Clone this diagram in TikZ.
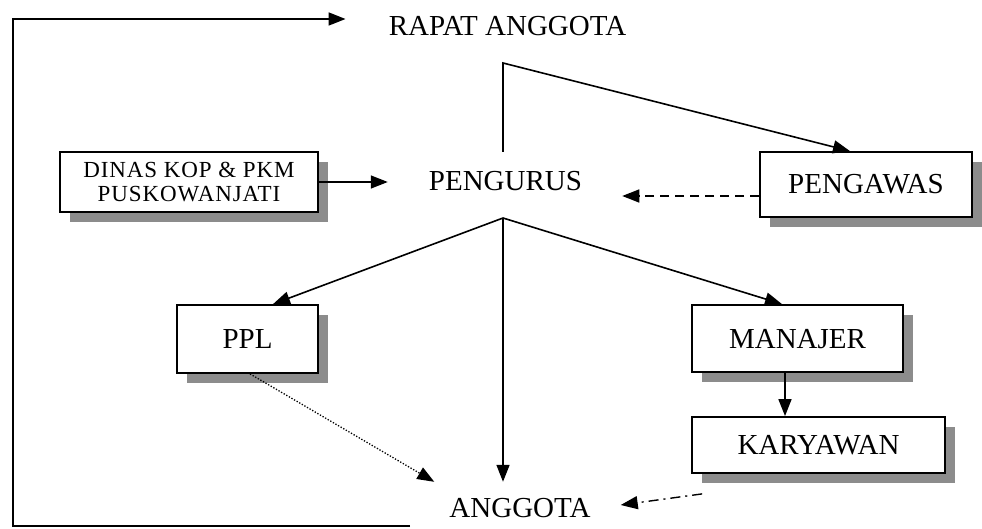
\documentclass[tikz,border=0pt]{standalone}
\usepackage{fontspec}
\setmainfont{Liberation Serif}
\newfontfamily\dinasfont[LetterSpace=4]{Liberation Serif}
\usetikzlibrary{arrows.meta,shadows,calc}
\begin{document}
\begin{tikzpicture}[x=1pt,y=-1pt,
  lbl/.style={inner sep=0pt, text height=19pt, text depth=0pt, font=\fontsize{29}{34}\selectfont},
  boxnode/.style={draw, line width=1.8pt, fill=white, inner sep=0pt,
    drop shadow={shadow xshift=10pt, shadow yshift=-10pt, fill=black!45, opacity=1}},
  boxtext/.style={text height=19pt, text depth=0pt, font=\fontsize{29}{34}\selectfont},
  conn/.style={line width=1.6pt, -{Triangle[length=17pt,width=13pt]}},
  ]
\useasboundingbox (0,0) rectangle (982,529);

% text-only nodes
\node[lbl] (rapat) at (507.5,26.5) {RAPAT ANGGOTA};
\node[lbl] (pengurus) at (505.5,181.5) {PENGURUS};
\node[lbl] (anggota) at (520,507.5) {ANGGOTA};

% boxes
\node[boxnode, boxtext, minimum width=212pt, minimum height=65pt] (pengawas) at (866,184.5) {PENGAWAS};
\node[boxnode, minimum width=258pt, minimum height=60pt, align=center,
      font=\dinasfont\fontsize{23}{24}\selectfont] (dinas) at (189,182) {DINAS KOP \& PKM\\PUSKOWANJATI};
\node[boxnode, boxtext, minimum width=141pt, minimum height=68pt] (ppl) at (247.5,339) {PPL};
\node[boxnode, boxtext, minimum width=211pt, minimum height=67pt] (manajer) at (797.5,338.5) {MANAJER};
\node[boxnode, boxtext, minimum width=253pt, minimum height=56pt] (karyawan) at (818.5,445) {KARYAWAN};

% helper coordinates
\coordinate (loopstart) at (410,526);
\coordinate (loopbl) at (13,526);
\coordinate (looptl) at (13,19);
\coordinate (pgtop) at (503,152);
\coordinate (pgcorner) at (503,63);
\coordinate (pgbot) at (503,218);

% connectors
\draw[conn] (loopstart) -- (loopbl) -- (looptl) -- ([xshift=-43pt,yshift=7.5pt]rapat.west);
\draw[conn] (pgtop) -- (pgcorner) -- ([xshift=-16pt]pengawas.north);
\draw[conn] (dinas.east) -- ($(pengurus.west)+(-41,0.5)$);
\draw[conn, dash pattern=on 9pt off 6pt] ([yshift=-11.5pt]pengawas.west) -- ($(pengurus.east)+(40,14.5)$);
\draw[conn] (pgbot) -- ([xshift=25.5pt]ppl.north);
\draw[conn] (pgbot) -- ([xshift=-15.5pt]manajer.north);
\draw[conn] (pgbot) -- ($(pgbot |- anggota.north)+(0,-16)$);
\draw[conn, line width=1.3pt, dash pattern=on 1.3pt off 1.7pt] ([xshift=2.5pt]ppl.south) -- ($(anggota.north west)+(-15,-16)$);
\draw[conn] ([xshift=-12.5pt]manajer.south) -- ([xshift=-33.5pt]karyawan.north);
\draw[conn, line width=1.4pt, dash pattern=on 10pt off 5pt on 2pt off 5pt] ($(karyawan.south west)+(11,20)$) -- ($(anggota.east)+(30,-2.5)$);
\end{tikzpicture}
\end{document}
